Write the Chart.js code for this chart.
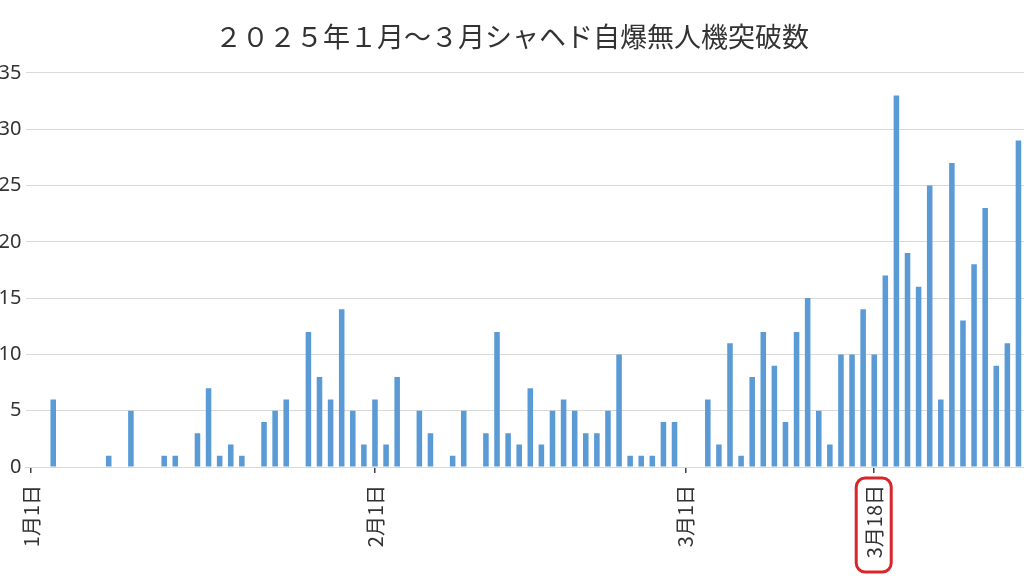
<!DOCTYPE html>
<html lang="ja">
<head>
<meta charset="utf-8">
<script src="https://cdn.jsdelivr.net/npm/chart.js@4.4.1/dist/chart.umd.min.js"></script>
<style>
  html, body { margin: 0; padding: 0; background: #fff; }
  #wrap { width: 1024px; height: 576px; }
</style>
</head>
<body>
<div id="wrap"><canvas id="drones" width="1024" height="576"></canvas></div>
<script>
const titleText = '２０２５年１月～３月シャヘド自爆無人機突破数';
const monthNames = ['1月', '2月', '3月'];
const monthLengths = [31, 28, 31];

// daily counts, Jan 1 .. Mar 31 (empty days = 0)
const janCounts = [0, 0, 6, 0, 0, 0, 0, 1, 0, 5, 0, 0, 1, 1, 0, 3, 7, 1, 2, 1, 0, 4, 5, 6, 0, 12, 8, 6, 14, 5, 2];
const febCounts = [6, 2, 8, 0, 5, 3, 0, 1, 5, 0, 3, 12, 3, 2, 7, 2, 5, 6, 5, 3, 3, 5, 10, 1, 1, 1, 4, 4];
const marCounts = [0, 0, 6, 2, 11, 1, 8, 12, 9, 4, 12, 15, 5, 2, 10, 10, 14, 10, 17, 33, 19, 16, 25, 6, 27, 13, 18, 23, 9, 11, 29];
const counts = janCounts.concat(febCounts, marCounts);

const shownDates = ['1月1日', '2月1日', '3月1日', '3月18日'];
const markedDate = '3月18日';

const days = [];
monthNames.forEach((m, i) => {
    for (let d = 1; d <= monthLengths[i]; d++) days.push(m + d + '日');
});

// red rounded box round the 3/18 label
const markPlugin = {
    id: 'dateMark',
    afterDraw(chart) {
        const xs = chart.scales.x;
        const cx = xs.getPixelForValue(days.indexOf(markedDate));
        const ctx = chart.ctx;
        ctx.save();
        ctx.strokeStyle = '#d9262b';
        ctx.lineWidth = 3;
        ctx.beginPath();
        ctx.roundRect(cx - 18, xs.top + 11, 35, xs.bottom - xs.top - 15, 9);
        ctx.stroke();
        ctx.restore();
    }
};

new Chart(document.getElementById('drones'), {
    type: 'bar',
    data: {
        labels: days,
        datasets: [{
            data: counts,
            backgroundColor: '#5b9bd5',
            barPercentage: 0.5,
            categoryPercentage: 1
        }]
    },
    options: {
        responsive: false,
        animation: false,
        layout: { padding: 0 },
        plugins: {
            legend: { display: false },
            tooltip: { enabled: false },
            title: {
                display: true,
                text: titleText,
                color: '#333',
                font: { family: '"Noto Sans CJK JP"', size: 27, weight: 'normal' },
                padding: { top: 20.5, bottom: 20 }
            }
        },
        scales: {
            x: {
                offset: true,
                grid: {
                    offset: false,
                    drawOnChartArea: false,
                    drawTicks: true,
                    tickLength: 6,
                    lineWidth: 1.5,
                    color: (c) => (c.tick && c.tick.label) ? '#404040' : 'rgba(0,0,0,0)'
                },
                border: { color: '#d9d9d9' },
                ticks: {
                    autoSkip: false,
                    minRotation: 90,
                    maxRotation: 90,
                    padding: 12,
                    color: '#333',
                    font: { family: '"Noto Sans CJK JP"', size: 20 },
                    callback: (v, i) => shownDates.includes(days[i]) ? days[i] : null
                },
                afterFit(s) {
                    s.height = 109;
                    s.paddingLeft = 0;
                    s.paddingRight = 0;
                }
            },
            y: {
                min: 0,
                max: 35,
                ticks: {
                    stepSize: 5,
                    padding: 4,
                    color: '#333',
                    font: { family: '"Noto Sans"', size: 20 }
                },
                grid: { color: '#d9d9d9', drawTicks: false },
                border: { display: false },
                afterFit(s) { s.width = 25.5; }
            }
        }
    },
    plugins: [markPlugin]
});
</script>
</body>
</html>
